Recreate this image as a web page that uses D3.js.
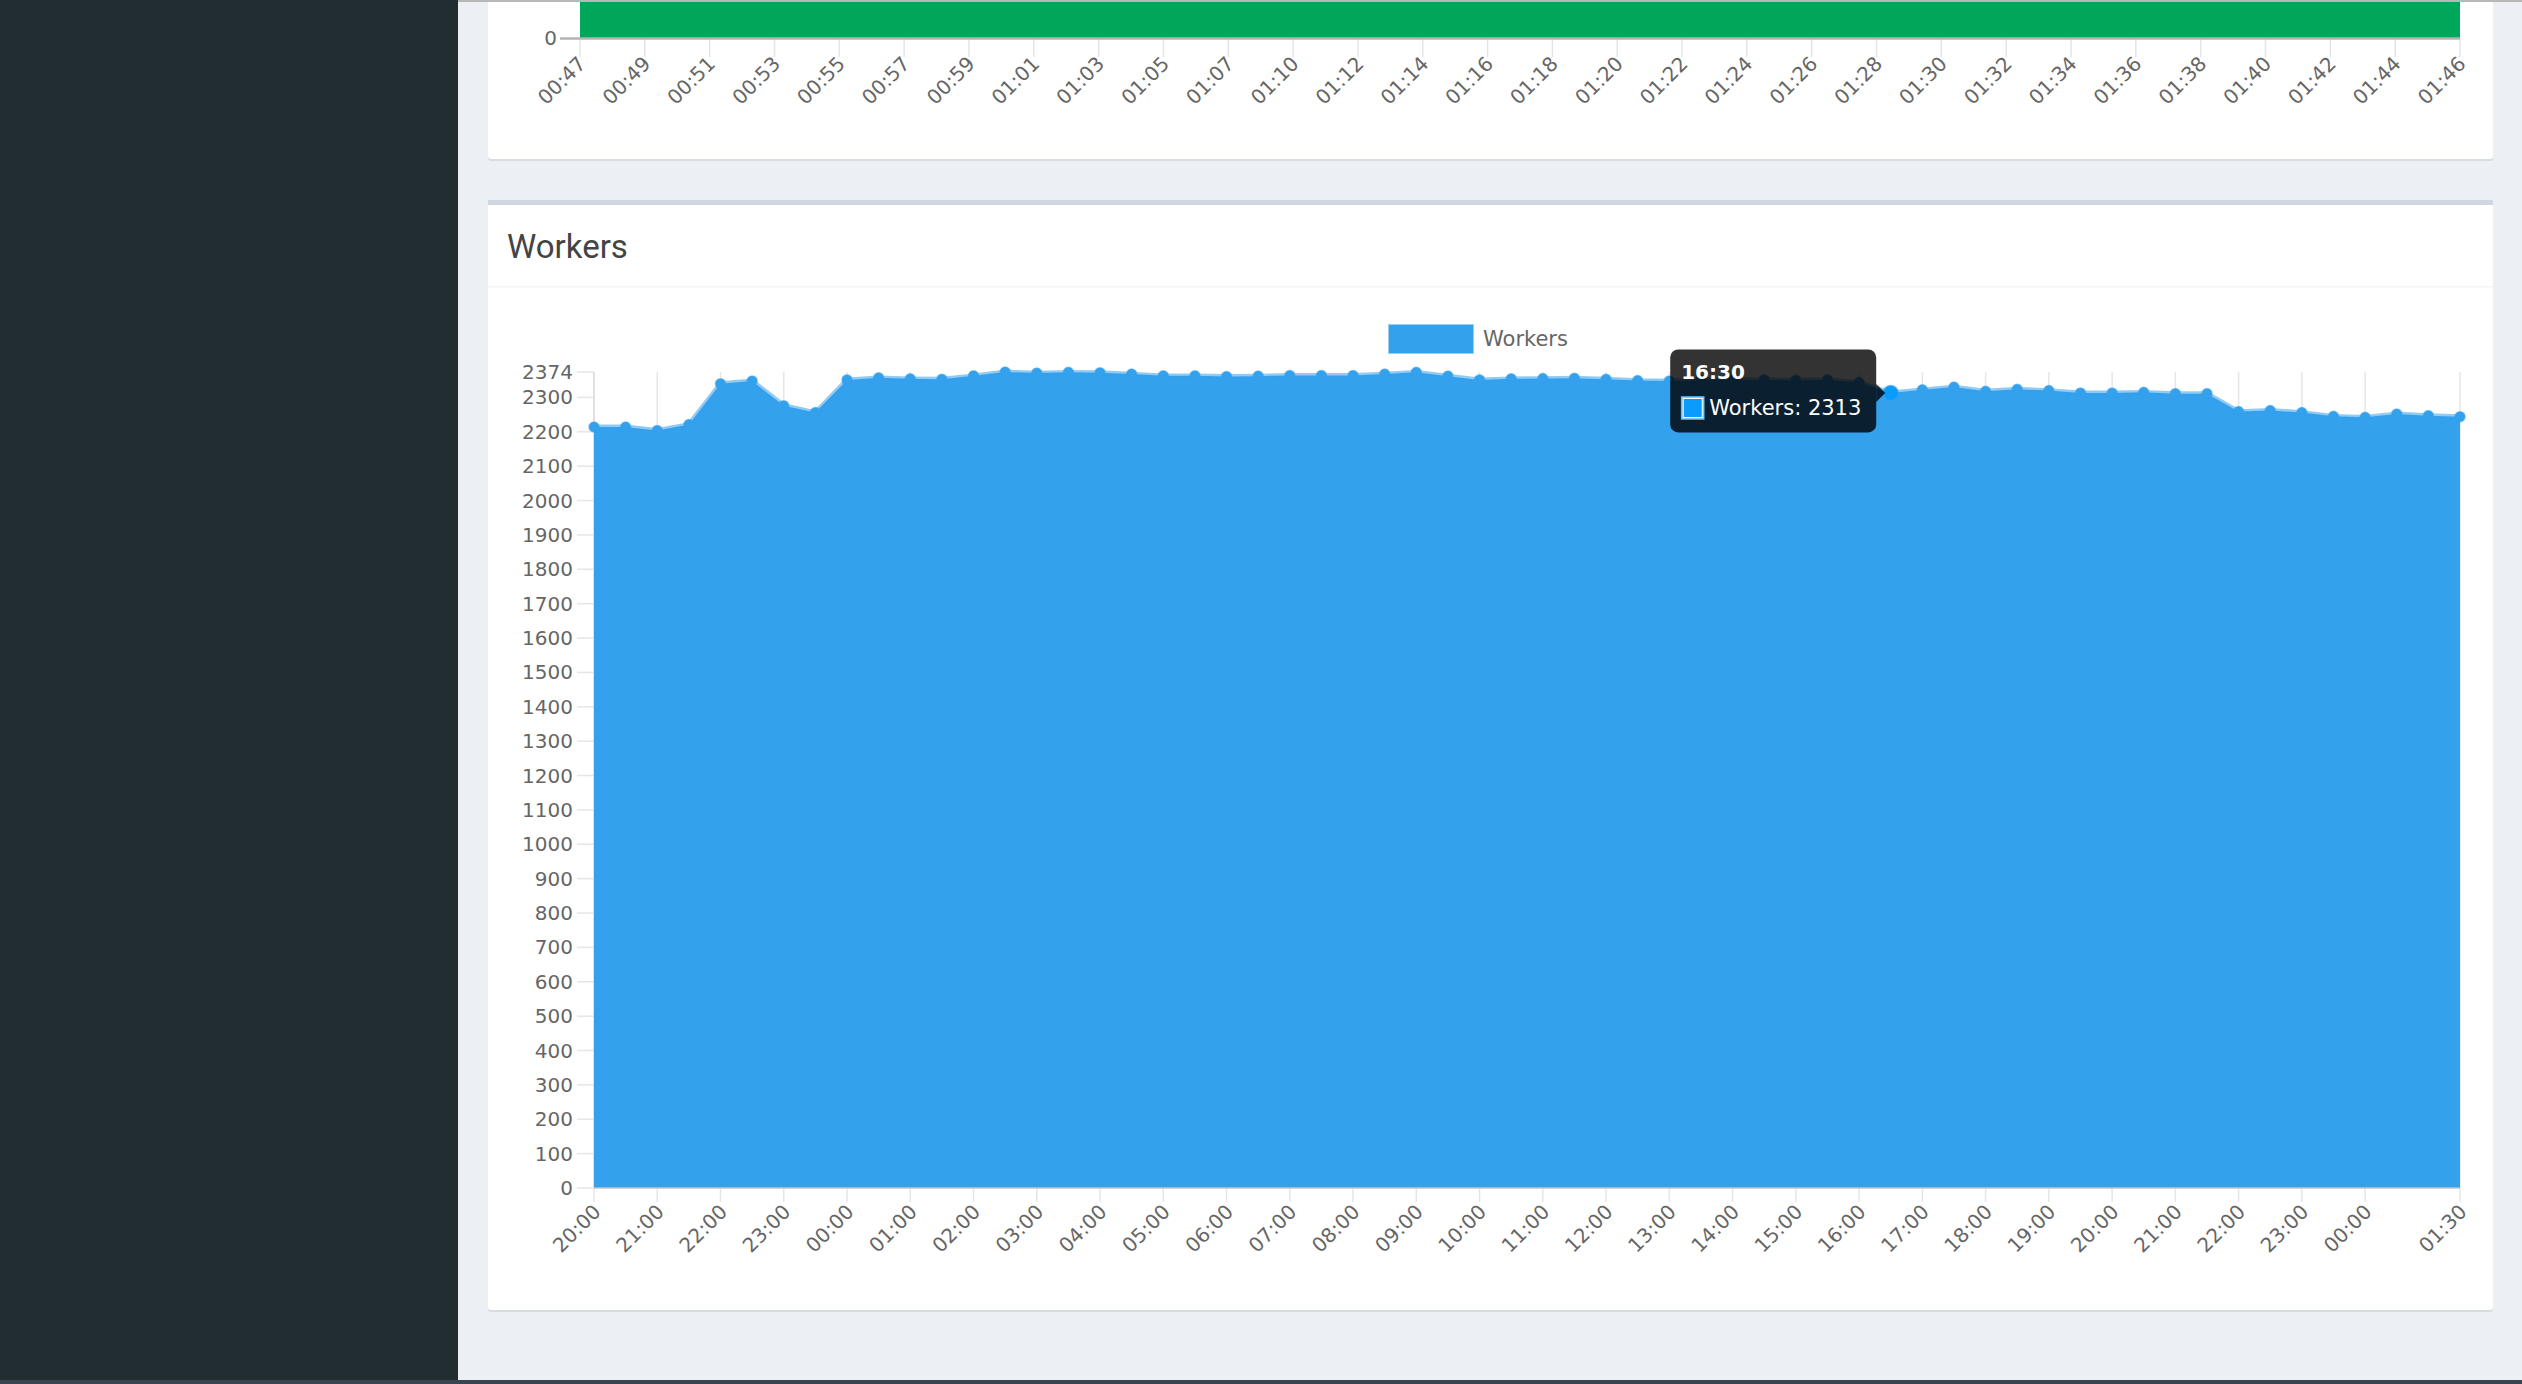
<!DOCTYPE html>
<html><head><meta charset="utf-8">
<script src="https://cdn.jsdelivr.net/npm/d3@7/dist/d3.min.js"></script>
<style>
html,body{margin:0;padding:0;background:#ecf0f5;overflow:hidden;}
svg{display:block}
</style></head><body>
<svg id="page" width="2522" height="1384"></svg>
<script>
// ---------------- DATA ----------------
const upperLabels = ["00:47","00:49","00:51","00:53","00:55","00:57","00:59","01:01","01:03","01:05",
  "01:07","01:10","01:12","01:14","01:16","01:18","01:20","01:22","01:24","01:26",
  "01:28","01:30","01:32","01:34","01:36","01:38","01:40","01:42","01:44","01:46"];
const upperValues = [4,4,4,4,4,4,4,4,4,4,4,4,4,4,4,4,4,4,4,4,4,4,4,4,4,4,4,4,4,4];

const timeLabels = ["20:00","20:30","21:00","21:30","22:00","22:30","23:00","23:30",
  "00:00","00:30","01:00","01:30","02:00","02:30","03:00","03:30","04:00","04:30","05:00","05:30",
  "06:00","06:30","07:00","07:30","08:00","08:30","09:00","09:30","10:00","10:30","11:00","11:30",
  "12:00","12:30","13:00","13:30","14:00","14:30","15:00","15:30","16:00","16:30","17:00","17:30",
  "18:00","18:30","19:00","19:30","20:00","20:30","21:00","21:30","22:00","22:30","23:00","23:30",
  "00:00","00:30","01:00","01:30"];
const workers = [2214,2214,2204,2221,2340,2348,2276,2256,
  2351,2357,2354,2353,2363,2374,2371,2373,2372,2368,2363,2363,
  2361,2362,2364,2364,2364,2368,2373,2362,2351,2354,2355,2356,
  2353,2349,2348,2350,2352,2351,2350,2351,2344,2313,2322,2330,
  2318,2324,2320,2313,2313,2315,2311,2311,2259,2262,2256,2245,
  2242,2252,2247,2244];
const xTickLabels = ["20:00","21:00","22:00","23:00","00:00","01:00","02:00","03:00","04:00","05:00",
  "06:00","07:00","08:00","09:00","10:00","11:00","12:00","13:00","14:00","15:00","16:00","17:00",
  "18:00","19:00","20:00","21:00","22:00","23:00","00:00","01:30"];
const yTickValues = [0,100,200,300,400,500,600,700,800,900,1000,1100,1200,1300,1400,1500,1600,
  1700,1800,1900,2000,2100,2200,2300,2374];
const yMax = 2374;
const seriesName = "Workers";
const hoverIndex = 41;

// ---------------- helpers ----------------
function toDates(labels){
  let day = 0, prev = -1;
  return labels.map(l => {
    const [h, m] = l.split(":").map(Number);
    const mins = h * 60 + m;
    if (prev >= 0 && mins < prev) day++;
    prev = mins;
    return new Date(2020, 0, 1 + day, h, m);
  });
}
const times = toDates(timeLabels);
const tickTimes = toDates(xTickLabels);
const data = times.map((t, i) => ({t, v: workers[i], label: timeLabels[i]}));

const TICK_FONT = "'DejaVu Sans', sans-serif";
const BLUE = "rgb(52,161,237)";

const svg = d3.select("#page");
svg.append("rect").attr("width", 2522).attr("height", 1384).attr("fill", "#ecf0f5");

// sidebar
svg.append("rect").attr("x", 0).attr("y", 0).attr("width", 458).attr("height", 1384).attr("fill", "#222d32");

// ---------------- upper card ----------------
svg.append("rect").attr("x", 488).attr("y", -10).attr("width", 2005).attr("height", 171).attr("rx", 3).attr("fill", "#d7dbe2");
svg.append("rect").attr("x", 488).attr("y", -10).attr("width", 2005).attr("height", 169).attr("rx", 3).attr("fill", "#ffffff");

const ux = d3.scalePoint().domain(upperLabels).range([580, 2460]);
const uy = d3.scaleLinear().domain([0, 4]).range([38, -300]);
const ug = svg.append("g");
ug.selectAll("line.ut").data(upperLabels).join("line")
  .attr("x1", d => ux(d)).attr("x2", d => ux(d)).attr("y1", 38).attr("y2", 57)
  .attr("stroke", "#e5e5e5").attr("stroke-width", 1.5);
ug.append("path").datum(upperLabels.map((l, i) => ({l, v: upperValues[i]})))
  .attr("d", d3.area().x(d => ux(d.l)).y0(uy(0)).y1(d => uy(d.v)))
  .attr("fill", "#00a65a");
ug.append("line").attr("x1", 560).attr("x2", 2460).attr("y1", 38.5).attr("y2", 38.5)
  .attr("stroke", "#b3b3b3").attr("stroke-width", 2.5);
ug.append("text").attr("x", 557).attr("y", 38).attr("dy", "0.35em").attr("text-anchor", "end")
  .attr("font-family", TICK_FONT).attr("font-size", 20).attr("fill", "#666").text("0");
ug.selectAll("text.ul").data(upperLabels).join("text")
  .attr("transform", d => `translate(${ux(d) + 2},${60}) rotate(-45)`)
  .attr("text-anchor", "end").attr("dy", "0.35em")
  .attr("font-family", TICK_FONT).attr("font-size", 20).attr("fill", "#666").text(d => d);

// top line
svg.append("rect").attr("x", 458).attr("y", 0).attr("width", 2064).attr("height", 2).attr("fill", "#b8b8b8");

// ---------------- workers card ----------------
svg.append("rect").attr("x", 488).attr("y", 200).attr("width", 2005).attr("height", 1112).attr("rx", 3).attr("fill", "#d7dbe2");
svg.append("rect").attr("x", 488).attr("y", 200).attr("width", 2005).attr("height", 1110).attr("rx", 3).attr("fill", "#ffffff");
svg.append("rect").attr("x", 488).attr("y", 200).attr("width", 2005).attr("height", 5).attr("fill", "#d2d6de");
svg.append("rect").attr("x", 488).attr("y", 286).attr("width", 2005).attr("height", 1.5).attr("fill", "#f4f4f4");
svg.append("text").attr("x", 507).attr("y", 258).attr("font-family", "Roboto, 'Open Sans', sans-serif")
  .attr("font-size", 33).attr("fill", "#444").text(seriesName);

// legend
const lg = svg.append("g");
lg.append("rect").attr("x", 1389).attr("y", 325).attr("width", 84).attr("height", 28)
  .attr("fill", BLUE).attr("stroke", "rgba(52,161,237,0.5)").attr("stroke-width", 2);
lg.append("text").attr("x", 1483).attr("y", 339).attr("dy", "0.35em")
  .attr("font-family", TICK_FONT).attr("font-size", 21).attr("fill", "#666").text(seriesName);

// scales
const L = 594, R = 2460, T = 372, B = 1188;
const x = d3.scaleTime().domain([times[0], times[times.length - 1]]).range([L, R]);
const y = d3.scaleLinear().domain([0, yMax]).range([B, T]);

const g = svg.append("g");
g.selectAll("line.vg").data(tickTimes).join("line")
  .attr("x1", d => x(d)).attr("x2", d => x(d)).attr("y1", T).attr("y2", B + 14)
  .attr("stroke", "#e6e6e6").attr("stroke-width", 1.5);
g.selectAll("line.yt").data(yTickValues).join("line")
  .attr("x1", L - 17).attr("x2", L).attr("y1", d => y(d)).attr("y2", d => y(d))
  .attr("stroke", "#e6e6e6").attr("stroke-width", 1.5);
g.append("line").attr("x1", L).attr("x2", L).attr("y1", T).attr("y2", B)
  .attr("stroke", "#dcdcdc").attr("stroke-width", 1.5);

// area
g.append("path").datum(data)
  .attr("d", d3.area().x(d => x(d.t)).y0(y(0)).y1(d => y(d.v)))
  .attr("fill", BLUE);
g.append("path").datum(data)
  .attr("d", d3.line().x(d => x(d.t)).y(d => y(d.v)))
  .attr("fill", "none").attr("stroke", "rgba(52,161,237,0.55)").attr("stroke-width", 4.8)
  .attr("stroke-linejoin", "round");
g.append("line").attr("x1", L).attr("x2", R).attr("y1", B).attr("y2", B)
  .attr("stroke", "#c4c4c4").attr("stroke-width", 1.5);
g.selectAll("circle.pt").data(data).join("circle")
  .attr("cx", d => x(d.t)).attr("cy", d => y(d.v)).attr("r", 5)
  .attr("fill", BLUE).attr("stroke", "rgba(52,161,237,0.55)").attr("stroke-width", 1.6);

g.selectAll("text.yl").data(yTickValues).join("text")
  .attr("x", L - 21).attr("y", d => y(d)).attr("dy", "0.35em").attr("text-anchor", "end")
  .attr("font-family", TICK_FONT).attr("font-size", 20).attr("fill", "#666").text(d => d);
g.selectAll("text.xl").data(tickTimes).join("text")
  .attr("transform", d => `translate(${x(d) + 3},${B + 20}) rotate(-45)`)
  .attr("text-anchor", "end").attr("dy", "0.35em")
  .attr("font-family", TICK_FONT).attr("font-size", 20).attr("fill", "#666")
  .text((d, i) => xTickLabels[i]);

// hovered point
const hp = data[hoverIndex];
const px = x(hp.t), py = y(hp.v);
g.append("circle").attr("cx", px).attr("cy", py).attr("r", 7.5)
  .attr("fill", "#0a9cfc").attr("stroke", "rgba(52,161,237,0.55)").attr("stroke-width", 1.6);

// tooltip
const tw = 206, th = 83;
const tRight = px - 14.5, tLeft = tRight - tw, tTop = py - th / 2 - 2;
const tt = svg.append("g");
tt.append("rect").attr("x", tLeft).attr("y", tTop).attr("width", tw).attr("height", th).attr("rx", 8)
  .attr("fill", "rgba(0,0,0,0.8)");
tt.append("path").attr("d", `M${tRight},${py - 9}L${tRight + 9},${py}L${tRight},${py + 9}Z`)
  .attr("fill", "rgba(0,0,0,0.8)");
tt.append("text").attr("x", tLeft + 11).attr("y", tTop + 30)
  .attr("font-family", TICK_FONT).attr("font-weight", "bold").attr("font-size", 20).attr("fill", "#fff")
  .text(hp.label);
tt.append("rect").attr("x", tLeft + 11).attr("y", tTop + 47).attr("width", 23).attr("height", 23).attr("fill", "#fff");
tt.append("rect").attr("x", tLeft + 11.5).attr("y", tTop + 47.5).attr("width", 22).attr("height", 22)
  .attr("fill", "none").attr("stroke", "rgba(52,161,237,0.6)").attr("stroke-width", 2);
tt.append("rect").attr("x", tLeft + 13.5).attr("y", tTop + 49.5).attr("width", 18).attr("height", 18).attr("fill", "#0a9cfc");
tt.append("text").attr("x", tLeft + 39).attr("y", tTop + 66)
  .attr("font-family", TICK_FONT).attr("font-size", 21).attr("fill", "#fff")
  .text(seriesName + ": " + hp.v);

// bottom strip
svg.append("rect").attr("x", 0).attr("y", 1380).attr("width", 2522).attr("height", 4).attr("fill", "#3a4450");
</script>
</body></html>
